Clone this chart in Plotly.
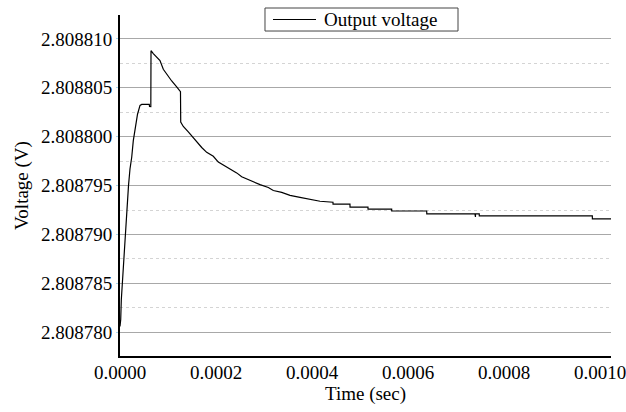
import plotly.graph_objects as go

# Data
time_s = [
    0.0, 1.5e-6, 2.7e-6, 4.8e-6, 7.3e-6, 10.4e-6, 14.6e-6, 17.7e-6, 20.8e-6, 24.4e-6,
    27.7e-6, 33.3e-6, 36.5e-6, 41.7e-6, 45.2e-6, 61.0e-6, 61.5e-6, 64.2e-6, 64.6e-6,
    69.4e-6, 75.0e-6, 79.8e-6, 83.3e-6, 90.2e-6, 97.3e-6, 107.7e-6, 118.1e-6, 126.0e-6,
    126.5e-6, 131.9e-6, 142.3e-6, 152.7e-6, 159.8e-6, 170.2e-6, 180.6e-6, 194.4e-6,
    204.8e-6, 215.2e-6, 229.2e-6, 243.1e-6, 253.5e-6, 267.3e-6, 281.3e-6, 291.7e-6,
    309.0e-6, 319.4e-6, 336.9e-6, 354.2e-6, 375.0e-6, 395.8e-6, 416.7e-6,
    443.7e-6, 443.8e-6, 479.1e-6, 479.2e-6, 516.6e-6, 516.7e-6, 566.0e-6, 566.1e-6,
    639.0e-6, 639.1e-6, 739.5e-6, 739.6e-6, 740.5e-6, 740.6e-6, 748.4e-6, 748.5e-6,
    984.0e-6, 984.1e-6, 1.0235e-3,
]
voltage_v = [
    2.8087806, 2.8087813, 2.8087833, 2.8087851, 2.8087869, 2.8087895, 2.8087926, 2.8087950,
    2.8087967, 2.8087979, 2.8087996, 2.8088014, 2.8088023, 2.8088032, 2.8088033, 2.8088033,
    2.8088031, 2.80880308, 2.8088088, 2.8088085, 2.8088082, 2.8088080, 2.8088078, 2.8088069,
    2.8088064, 2.8088057, 2.8088051, 2.8088046, 2.8088015, 2.80880105, 2.8088005, 2.8087999,
    2.8087994, 2.8087989, 2.8087984, 2.8087980, 2.8087974, 2.8087971, 2.8087967, 2.8087963,
    2.8087959, 2.8087956, 2.8087953, 2.8087951, 2.8087948, 2.8087945, 2.8087943, 2.8087940,
    2.8087938, 2.8087936, 2.8087934,
    2.8087933, 2.8087931, 2.8087931, 2.8087928, 2.8087928, 2.8087926, 2.8087926, 2.8087924,
    2.8087924, 2.8087921, 2.8087921, 2.8087918, 2.8087918, 2.8087921, 2.8087921, 2.8087919,
    2.8087919, 2.8087916, 2.8087916,
]

series_name = "Output voltage"
x_tick_vals = [0.0, 0.0002, 0.0004, 0.0006, 0.0008, 0.0010]
x_tick_text = ["0.0000", "0.0002", "0.0004", "0.0006", "0.0008", "0.0010"]
y_tick_vals = [2.808780, 2.808785, 2.808790, 2.808795, 2.808800, 2.808805, 2.808810]
y_tick_text = ["2.808780", "2.808785", "2.808790", "2.808795", "2.808800", "2.808805", "2.808810"]
y_minor_vals = [2.8087775, 2.8087825, 2.8087875, 2.8087925, 2.8087975, 2.8088025, 2.8088075]

FONT = "Liberation Serif, Times New Roman, serif"
FS = 19
TXT = dict(family=FONT, size=FS, color="black")

fig = go.Figure()
fig.add_trace(go.Scatter(
    x=time_s, y=voltage_v, mode="lines", name=series_name,
    line=dict(color="black", width=1.2), showlegend=False,
))

# Legend drawn as a framed box (paper coordinates of the plot area)
fig.add_shape(type="rect", xref="paper", yref="paper",
              x0=0.2953, x1=0.6884, y0=0.953, y1=1.0205,
              line=dict(color="#444444", width=1), fillcolor="white", layer="above")
fig.add_shape(type="line", xref="paper", yref="paper",
              x0=0.3116, x1=0.3992, y0=0.9868, y1=0.9868,
              line=dict(color="black", width=1.2), layer="above")
fig.add_annotation(xref="paper", yref="paper", x=0.4114, y=0.9868,
                   xanchor="left", yanchor="middle", showarrow=False,
                   text=series_name, font=TXT)

fig.update_layout(
    width=626, height=412,
    margin=dict(l=120, r=15, t=15, b=56),
    paper_bgcolor="white", plot_bgcolor="white",
    font=TXT,
    showlegend=False,
)

fig.update_xaxes(
    range=[0, 0.0010229],
    tickmode="array", tickvals=x_tick_vals, ticktext=x_tick_text,
    showgrid=False, zeroline=False, automargin=False,
    ticklabeloverflow="allow", ticklabelstandoff=-2,
    showline=True, linecolor="black", linewidth=2,
    ticks="", tickfont=TXT,
    title=dict(text="Time (sec)", standoff=2, font=TXT),
)

fig.update_yaxes(
    range=[2.80877757, 2.80881245],
    tickmode="array", tickvals=y_tick_vals, ticktext=y_tick_text,
    showgrid=True, gridcolor="#a8a8a8", gridwidth=1,
    zeroline=False, automargin=False,
    showline=True, linecolor="black", linewidth=2,
    ticks="outside", ticklen=2, tickcolor="#a9d8f0", tickwidth=1,
    tickfont=TXT,
    minor=dict(tickmode="array", tickvals=y_minor_vals, showgrid=True,
               gridcolor="#d4d4d4", griddash="dot", gridwidth=1, ticks=""),
    title=dict(text="Voltage (V)", standoff=7, font=TXT),
)

fig.write_html("out.html", post_script="document.body.style.margin='0px';",
               config={"displayModeBar": False})
